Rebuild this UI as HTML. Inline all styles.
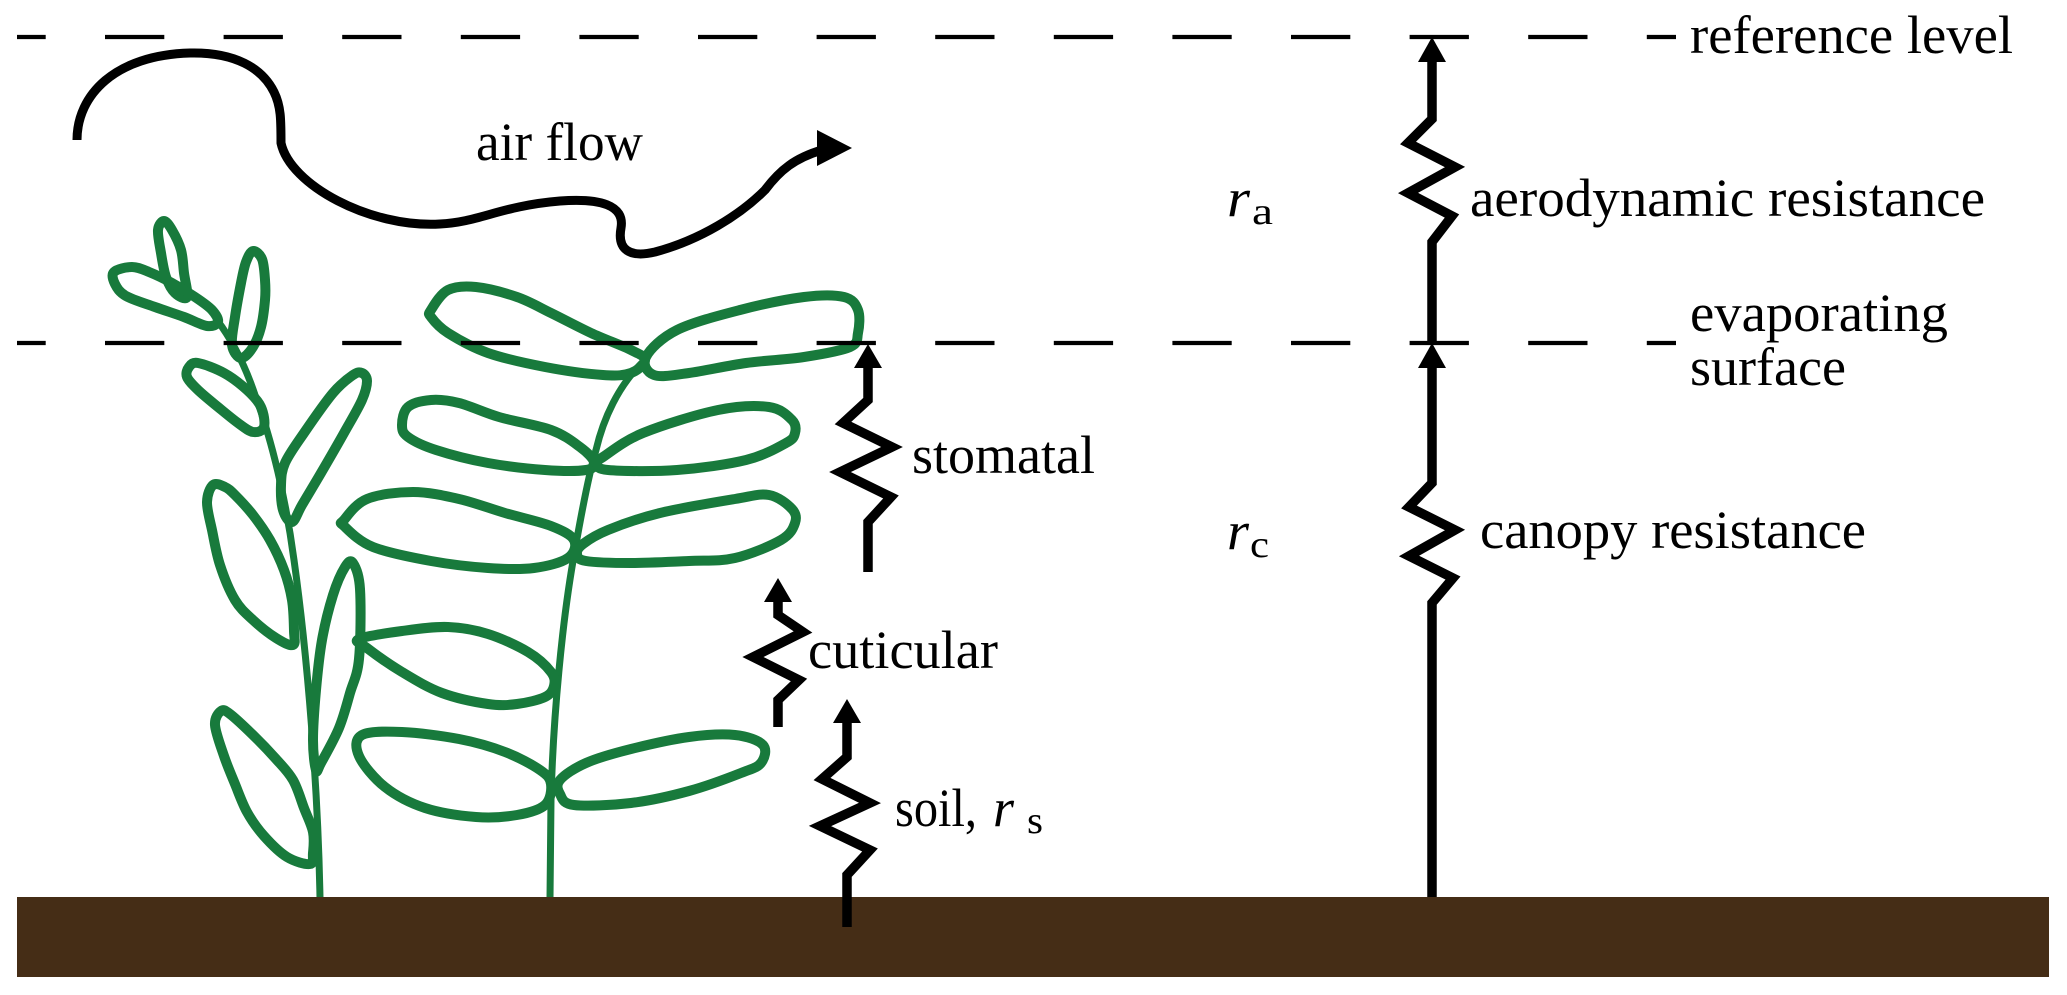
<!DOCTYPE html>
<html>
<head>
<meta charset="utf-8">
<style>
  html, body { margin: 0; padding: 0; background: #ffffff; }
  svg { display: block; }
  text { font-family: "Liberation Serif", "Tinos", "Times New Roman", Times, serif; fill: #000; }
</style>
</head>
<body>
<svg width="2067" height="995" viewBox="0 0 2067 995" xmlns="http://www.w3.org/2000/svg">
  <rect x="0" y="0" width="2067" height="995" fill="#ffffff"/>

  <!-- Plants -->
  <g fill="none" stroke="#187a3c" stroke-linejoin="round" stroke-linecap="round">
    <!-- plant A stem -->
    <path stroke-width="7" d="M320,898 C318,790 308,660 294,560 C286,500 272,440 255,395 C245,365 232,340 217,320"/>
    <!-- plant B stem -->
    <path stroke-width="7" d="M550,898 L551,800 C553,720 562,620 575,550 C582,510 590,470 596,450 C603,420 618,385 645,360"/>

    <g stroke-width="10">
      <!-- plant A leaves -->
      <polygon class="leaf" points="187,297 184,273 181,250 172,230 164,221 158,230 161,253 166,277 175,293"/>
      <polygon class="leaf" points="114,272 132,267 149,272 172,283 195,297 212,310 218,322 207,326 184,317 155,307 126,296 115,284"/>
      <polygon class="leaf" points="253,251 262,259 265,280 265,300 261,327 253,347 241,358 232,345 235,317 241,283 246,262"/>
      <polygon class="leaf" points="189,367 198,363 224,373 247,390 261,407 264,427 253,432 238,423 218,407 198,390 187,377"/>
      <polygon class="leaf" points="362,373 367,381 362,400 344,433 321,473 302,505 292,522 283,510 281,485 285,463 304,433 333,393 353,375"/>
      <polygon class="leaf" points="213,485 207,502 212,530 220,565 235,600 253,620 276,638 293,645 294,631 292,600 284,570 270,540 253,515 235,495 225,487"/>
      <polygon class="leaf" points="353,563 360,589 359,659 350,693 339,728 321,763 316,770 313,740 316,690 322,640 333,595 345,567"/>
      <polygon class="leaf" points="221,711 215,725 224,756 235,784 247,812 264,836 287,857 310,864 313,853 313,832 304,808 293,780 276,759 253,735 230,714"/>

      <!-- plant B leaves -->
      <polygon class="leaf" points="431,310 448,290 476,287 517,297 551,313 591,333 631,350 645,360 631,373 603,375 545,367 488,353 448,333 431,317"/>
      <polygon class="leaf" points="646,357 677,330 740,310 804,297 844,297 858,310 858,333 850,347 804,357 746,363 689,373 654,375"/>
      <polygon class="leaf" points="594,462 580,447 551,430 499,417 459,403 431,400 408,407 402,425 408,437 436,450 488,463 545,470 586,470"/>
      <polygon class="leaf" points="597,463 603,457 643,433 718,410 769,407 792,420 795,433 786,443 746,460 677,470 608,470"/>
      <polygon class="leaf" points="574,540 551,526 505,513 459,499 413,492 367,499 344,520 344,526 373,547 431,561 488,568 534,568 568,558"/>
      <polygon class="leaf" points="583,544 608,530 660,513 735,499 769,495 792,509 795,523 781,540 735,558 689,561 631,563 586,561 577,554"/>
      <polygon class="leaf" points="554,686 551,672 528,652 488,634 448,627 402,631 359,639 367,648 402,672 442,693 488,704 517,704 545,697"/>
      <polygon class="leaf" points="551,784 540,770 505,752 459,739 402,732 362,735 359,756 385,787 425,808 476,817 517,815 545,805"/>
      <polygon class="leaf" points="560,780 586,763 631,749 689,737 735,735 763,745 761,763 741,773 689,791 631,803 574,805 560,794"/>
    </g>
  </g>

  <!-- Dashed lines -->
  <g stroke="#000" stroke-width="4.3" stroke-dasharray="59.3 59.3" stroke-dashoffset="30.6" fill="none">
    <line x1="17" y1="37" x2="1676" y2="37"/>
    <line x1="17" y1="343" x2="1676" y2="343"/>
  </g>

  <!-- Soil -->
  <rect x="17" y="897" width="2032" height="80" fill="#452d16"/>

  <!-- Air flow -->
  <path d="M77,140 C77,95 115,55 190,53 C235,52 262,68 274,92 C281,106 281,120 281,143 C290,185 370,228 440,224 C480,222 500,206 560,201 C600,198 625,205 621,228 C617,250 630,258 655,252 C700,240 740,215 765,190 C780,170 795,158 822,150"
        fill="none" stroke="#000" stroke-width="9" stroke-linecap="butt" stroke-linejoin="round"/>
  <polygon points="852,148 817,130 817,166" fill="#000"/>

  <!-- Resistance arrows -->
  <g fill="none" stroke="#000" stroke-width="9.5" stroke-linejoin="miter" stroke-miterlimit="10" stroke-linecap="butt">
    <polyline points="1432,60 1432,119 1408,143 1455,167 1408,193 1452,216 1432,242 1432,343"/>
    <polyline points="1432,897 1432,603 1453,578 1409,556 1455,530 1409,507 1432,483 1432,366"/>
    <polyline points="868,366 868,400 843,423 892,447 840,472 891,497 868,522 868,572"/>
    <polyline points="778,600 778,615 803,632 753,657 799,680 778,700 778,727"/>
    <polyline points="847,721 847,757 822,779 870,803 820,826 870,850 847,875 847,927"/>
  </g>
  <g fill="#000">
    <polygon points="1432,37 1418,62 1446,62"/>
    <polygon points="1432,343 1418,368 1446,368"/>
    <polygon points="868,344 854,368 882,368"/>
    <polygon points="778,578 764,602 792,602"/>
    <polygon points="847,699 833,723 861,723"/>
  </g>

  <!-- Labels -->
  <g font-size="54">
    <text x="1690" y="53" textLength="323" lengthAdjust="spacingAndGlyphs">reference level</text>
    <text x="1470" y="216" textLength="515" lengthAdjust="spacingAndGlyphs">aerodynamic resistance</text>
    <text x="1690" y="331" textLength="258" lengthAdjust="spacingAndGlyphs">evaporating</text>
    <text x="1690" y="385" textLength="156" lengthAdjust="spacingAndGlyphs">surface</text>
    <text x="1480" y="548" textLength="386" lengthAdjust="spacingAndGlyphs">canopy resistance</text>
    <text x="912" y="473" textLength="183" lengthAdjust="spacingAndGlyphs">stomatal</text>
    <text x="808" y="668" textLength="190" lengthAdjust="spacingAndGlyphs">cuticular</text>
    <text x="895" y="826" textLength="82" lengthAdjust="spacingAndGlyphs">soil,</text>
    <text x="476" y="160" textLength="167" lengthAdjust="spacingAndGlyphs">air flow</text>

    <text x="1227" y="216" font-style="italic" textLength="23" lengthAdjust="spacingAndGlyphs">r</text>
    <text x="1252" y="224" font-size="38" textLength="21" lengthAdjust="spacingAndGlyphs">a</text>

    <text x="1227" y="549" font-style="italic" textLength="22" lengthAdjust="spacingAndGlyphs">r</text>
    <text x="1250" y="557" font-size="38" textLength="19" lengthAdjust="spacingAndGlyphs">c</text>

    <text x="993" y="826" font-style="italic" textLength="21" lengthAdjust="spacingAndGlyphs">r</text>
    <text x="1027" y="833" font-size="38" textLength="16" lengthAdjust="spacingAndGlyphs">s</text>
  </g>
</svg>
<script>
(function(){
  var list = document.querySelectorAll('polygon.leaf');
  for (var k = 0; k < list.length; k++) {
    var pg = list[k];
    var raw = pg.getAttribute('points').trim().split(/\s+/);
    var pts = raw.map(function(s){ var a = s.split(','); return [parseFloat(a[0]), parseFloat(a[1])]; });
    var n = pts.length;
    var d = 'M' + pts[0][0] + ',' + pts[0][1];
    for (var i = 0; i < n; i++) {
      var p0 = pts[(i - 1 + n) % n], p1 = pts[i], p2 = pts[(i + 1) % n], p3 = pts[(i + 2) % n];
      var c1x = p1[0] + (p2[0] - p0[0]) / 6, c1y = p1[1] + (p2[1] - p0[1]) / 6;
      var c2x = p2[0] - (p3[0] - p1[0]) / 6, c2y = p2[1] - (p3[1] - p1[1]) / 6;
      d += ' C' + c1x.toFixed(1) + ',' + c1y.toFixed(1) + ' ' + c2x.toFixed(1) + ',' + c2y.toFixed(1) + ' ' + p2[0] + ',' + p2[1];
    }
    d += 'Z';
    var path = document.createElementNS('http://www.w3.org/2000/svg', 'path');
    path.setAttribute('d', d);
    pg.parentNode.replaceChild(path, pg);
  }
})();
</script>
</body>
</html>
